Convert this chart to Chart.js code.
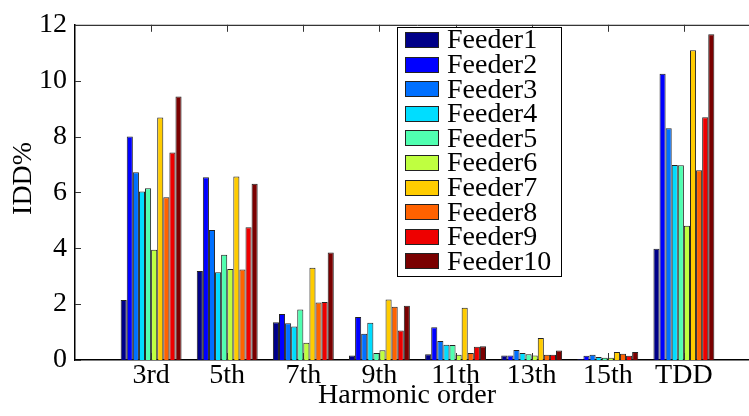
<!DOCTYPE html>
<html>
<head>
<meta charset="utf-8">
<script src="https://cdn.jsdelivr.net/npm/chart.js@4"></script>
<style>
    html, body { margin: 0; padding: 0; background: #fff; overflow: hidden; }
    canvas { display: block; }
</style>
</head>
<body>
<canvas id="idd" width="770" height="416"></canvas>
<script>
const categories = ['3rd', '5th', '7th', '9th', '11th', '13th', '15th', 'TDD'];
const feederNames = ['Feeder1', 'Feeder2', 'Feeder3', 'Feeder4', 'Feeder5',
    'Feeder6', 'Feeder7', 'Feeder8', 'Feeder9', 'Feeder10'];
const feederColors = ['#000088', '#0000ff', '#0070ff', '#00ddff', '#50ffb0',
    '#bfff40', '#ffcc00', '#ff6200', '#ee0000', '#7a0000'];

// IDD % per harmonic order (3rd ... 15th, then TDD)
const feeder1 = [2.15, 3.19, 1.35, 0.16, 0.21, 0.16, 0.04, 3.98];
const feeder2 = [8.00, 6.54, 1.65, 1.54, 1.17, 0.16, 0.15, 10.25];
const feeder3 = [6.72, 4.65, 1.32, 0.94, 0.68, 0.36, 0.19, 8.30];
const feeder4 = [6.03, 3.14, 1.20, 1.33, 0.55, 0.25, 0.11, 6.98];
const feeder5 = [6.15, 3.77, 1.81, 0.25, 0.54, 0.21, 0.08, 6.97];
const feeder6 = [3.95, 3.26, 0.62, 0.35, 0.19, 0.16, 0.08, 4.81];
const feeder7 = [8.68, 6.57, 3.30, 2.17, 1.87, 0.79, 0.29, 11.09];
const feeder8 = [5.83, 3.24, 2.06, 1.91, 0.25, 0.19, 0.22, 6.79];
const feeder9 = [7.43, 4.75, 2.08, 1.06, 0.47, 0.19, 0.15, 8.69];
const feeder10 = [9.43, 6.31, 3.85, 1.94, 0.49, 0.34, 0.29, 11.66];

const feederValues = [feeder1, feeder2, feeder3, feeder4, feeder5,
    feeder6, feeder7, feeder8, feeder9, feeder10];

const yTicks = [0, 2, 4, 6, 8, 10, 12];

const serif = "'Liberation Serif', 'Times New Roman', serif";

// empty slot at each end so the groups sit at x = 1..8 of a 0..9 axis
const xLabels = ['', ...categories, ''];

const datasets = feederValues.map((vals, i) => ({
    label: feederNames[i],
    data: [null, ...vals, null],
    backgroundColor: feederColors[i],
    borderColor: '#222',
    borderWidth: 1,
    categoryPercentage: 0.8,
    barPercentage: 1.0,
}));

// top edge of the box plus inward tick marks
const axesFrame = {
    id: 'axesFrame',
    afterDatasetsDraw(chart) {
        const { ctx, chartArea: a, scales: { x, y } } = chart;
        const seg = (x1, y1, x2, y2) => {
            ctx.beginPath();
            ctx.moveTo(x1, y1);
            ctx.lineTo(x2, y2);
            ctx.stroke();
        };
        ctx.save();
        ctx.strokeStyle = '#000';
        ctx.lineWidth = 1;
        seg(a.left, a.top + 0.5, a.right, a.top + 0.5);
        ctx.strokeStyle = '#333';
        y.ticks.forEach((t, i) => {
            const py = Math.round(y.getPixelForTick(i)) + 0.5;
            seg(a.left, py, a.left + 6, py);
        });
        x.ticks.forEach((t, i) => {
            if (!x.getLabelForValue(t.value)) return;
            const px = Math.round(x.getPixelForTick(i)) + 0.5;
            seg(px, a.bottom, px, a.bottom - 7);
            seg(px, a.top, px, a.top + 7);
        });
        ctx.restore();
    }
};

// boxed legend inside the plot
const boxLegend = {
    id: 'boxLegend',
    afterDraw(chart) {
        const { ctx } = chart;
        const left = 397, top = 27, width = 164, height = 249;
        const rowStep = 24.6, firstRow = 40;
        ctx.save();
        ctx.fillStyle = '#fff';
        ctx.fillRect(left, top, width, height);
        ctx.strokeStyle = '#000';
        ctx.lineWidth = 1;
        ctx.strokeRect(left + 0.5, top + 0.5, width, height);
        ctx.font = '28px ' + serif;
        ctx.textBaseline = 'middle';
        ctx.textAlign = 'left';
        chart.data.datasets.forEach((ds, i) => {
            const cy = firstRow + i * rowStep;
            ctx.fillStyle = ds.backgroundColor;
            ctx.fillRect(405, Math.round(cy - 8), 34, 16);
            ctx.strokeStyle = '#222';
            ctx.strokeRect(405.5, Math.round(cy - 8) + 0.5, 33, 15);
            ctx.fillStyle = '#000';
            ctx.fillText(ds.label, 447, cy + 1);
        });
        ctx.restore();
    }
};

new Chart(document.getElementById('idd'), {
    type: 'bar',
    data: { labels: xLabels, datasets: datasets },
    plugins: [axesFrame, boxLegend],
    options: {
        responsive: false,
        animation: false,
        layout: { padding: { top: 21, right: 10, left: 0, bottom: 0 } },
        plugins: {
            legend: { display: false },
            tooltip: { enabled: false },
        },
        scales: {
            x: {
                offset: false,
                grid: { display: false, drawTicks: false },
                border: { color: '#000', width: 1.5 },
                ticks: {
                    autoSkip: false,
                    maxRotation: 0,
                    padding: 0,
                    color: '#000',
                    font: { family: serif, size: 28, lineHeight: 1.1 },
                },
                title: {
                    display: true,
                    text: 'Harmonic order   ',
                    color: '#000',
                    font: { family: serif, size: 28, lineHeight: 1.2 },
                    padding: { top: 0, bottom: 4 },
                },
                afterFit(scale) { scale.height = 56; },
            },
            y: {
                min: 0,
                max: 12,
                afterBuildTicks(scale) { scale.ticks = yTicks.map(v => ({ value: v })); },
                grid: { display: false, drawTicks: false },
                border: { color: '#000', width: 1.5 },
                ticks: {
                    padding: 8,
                    color: '#000',
                    font: { family: serif, size: 28 },
                },
                title: {
                    display: true,
                    text: '    IDD%',
                    color: '#000',
                    font: { family: serif, size: 28, lineHeight: 1.2 },
                    padding: { top: 7, bottom: 0 },
                },
                afterFit(scale) { scale.width = 75; },
            },
        },
    },
});
</script>
</body>
</html>
